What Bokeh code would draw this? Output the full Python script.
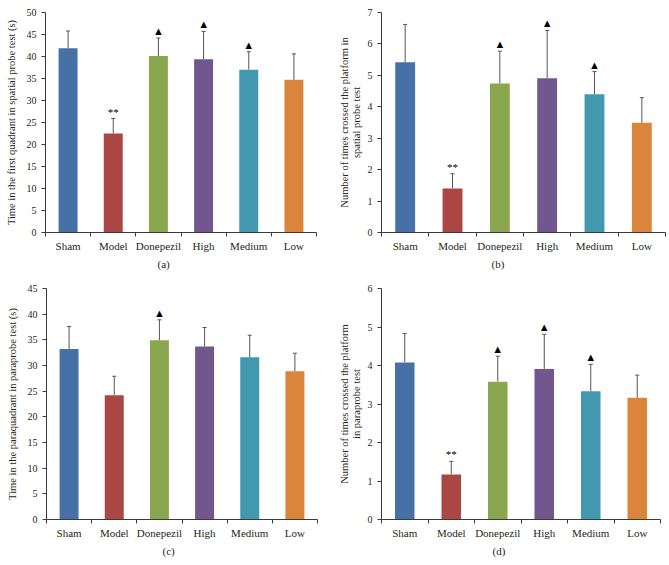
from bokeh.plotting import figure
from bokeh.models import (ColumnDataSource, Range1d, FixedTicker, Whisker, TeeHead, Title)
from bokeh.layouts import column, row
from bokeh.core.properties import value
from bokeh.embed import file_html
from bokeh.resources import INLINE

groups = ["Sham", "Model", "Donepezil", "High", "Medium", "Low"]
colors = ["#4671A6", "#AA4644", "#8AA64F", "#72578F", "#4198AF", "#DB853C"]

# (a) Time in the first quadrant in spatial probe test (s)
a_mean = [41.9, 22.5, 40.1, 39.4, 37.0, 34.7]
a_err = [3.9, 3.4, 4.1, 6.3, 4.1, 5.9]
a_mark = ["", "**", "\u25B2", "\u25B2", "\u25B2", ""]

# (b) Number of times crossed the platform in spatial probe test
b_mean = [5.42, 1.40, 4.74, 4.91, 4.40, 3.49]
b_err = [1.20, 0.47, 1.03, 1.52, 0.72, 0.80]
b_mark = ["", "**", "\u25B2", "\u25B2", "\u25B2", ""]

# (c) Time in the paraquadrant in paraprobe test (s)
c_mean = [33.2, 24.2, 34.9, 33.7, 31.6, 28.9]
c_err = [4.4, 3.7, 4.0, 3.7, 4.3, 3.5]
c_mark = ["", "", "\u25B2", "", "", ""]

# (d) Number of times crossed the platform in paraprobe test
d_mean = [4.08, 1.17, 3.58, 3.91, 3.33, 3.16]
d_err = [0.75, 0.34, 0.66, 0.90, 0.70, 0.59]
d_mark = ["", "**", "\u25B2", "\u25B2", "\u25B2", ""]

FONT = "Liberation Serif"
TXT = "#231F20"
AX = "#3A3A3A"


def panel(means, errs, marks, ylabel, caption, ymax, ystep, width, height,
          bl, br, bt, bb, cap_offset, label_standoff):
    xs = list(range(1, len(groups) + 1))
    src = ColumnDataSource(dict(
        x=xs, top=means, upper=[m + e for m, e in zip(means, errs)],
        color=colors, mark=marks))
    p = figure(width=width, height=height, output_backend="svg",
               toolbar_location=None, x_range=Range1d(0.5, 6.5),
               y_range=Range1d(0, ymax),
               min_border_left=bl, min_border_right=br,
               min_border_top=bt, min_border_bottom=bb)
    p.outline_line_color = None
    p.xgrid.grid_line_color = None
    p.ygrid.grid_line_color = None
    p.background_fill_color = "white"
    p.border_fill_color = "white"

    p.vbar(x="x", top="top", bottom=0, width=0.42, color="color",
           line_color=None, source=src)
    p.add_layout(Whisker(base="x", upper="upper", lower="top", source=src,
                         line_color="#555555", line_width=1,
                         upper_head=TeeHead(size=4, line_color="#555555", line_width=1),
                         lower_head=None))
    p.text(x="x", y="upper", text="mark", source=src,
           text_align="center", text_baseline="bottom", y_offset=-1,
           text_font=value(FONT), text_font_size="11px", text_color="black")

    xa = p.xaxis[0]
    xa.ticker = FixedTicker(ticks=xs, minor_ticks=[x - 0.5 for x in xs] + [xs[-1] + 0.5])
    xa.major_label_overrides = {x: g for x, g in zip(xs, groups)}
    xa.major_tick_line_color = None
    xa.major_tick_out = 4
    xa.major_tick_in = 0
    xa.minor_tick_out = 4
    xa.minor_tick_in = 0
    xa.minor_tick_line_color = AX
    xa.axis_line_color = AX
    xa.major_label_standoff = 3
    xa.major_label_text_font = FONT
    xa.major_label_text_font_size = "11px"
    xa.major_label_text_color = TXT

    ya = p.yaxis[0]
    ticks = []
    t = 0
    while t <= ymax + 1e-9:
        ticks.append(t)
        t += ystep
    ya.ticker = FixedTicker(ticks=ticks)
    ya.minor_tick_line_color = None
    ya.major_tick_out = 4
    ya.major_tick_in = 0
    ya.major_tick_line_color = AX
    ya.axis_line_color = AX
    ya.major_label_standoff = 5
    ya.major_label_text_font = FONT
    ya.major_label_text_font_size = "10px"
    ya.major_label_text_color = TXT
    ya.axis_label = ylabel
    ya.axis_label_standoff = label_standoff
    ya.axis_label_text_font = FONT
    ya.axis_label_text_font_size = "10.5px"
    ya.axis_label_text_font_style = "normal"
    ya.axis_label_text_color = TXT
    ya.axis_label_text_line_height = 1.05

    p.add_layout(Title(text=caption, align="left", offset=cap_offset,
                       text_font=FONT, text_font_size="11px",
                       text_font_style="normal", text_color=TXT,
                       standoff=2), "below")
    return p


pa = panel(a_mean, a_err, a_mark,
           "Time in the first quadrant in spatial probe test (s)", "(a)",
           50, 5, 335, 280, 45, 19, 12, 48, 112, 7)
pb = panel(b_mean, b_err, b_mark,
           "Number of times crossed the platform in\nspatial probe test", "(b)",
           7, 1, 334, 280, 41, 4, 12, 48, 110, 3)
pc = panel(c_mean, c_err, c_mark,
           "Time in the paraquadrant in paraprobe test (s)", "(c)",
           45, 5, 335, 284, 46, 18, 8, 44, 116, 7)
pd = panel(d_mean, d_err, d_mark,
           "Number of times crossed the platform\nin paraprobe test", "(d)",
           6, 1, 334, 284, 40, 9, 7, 45, 111, 3)

layout = column(row(pa, pb), row(pc, pd))
open("out.html", "w").write(file_html(layout, INLINE))
